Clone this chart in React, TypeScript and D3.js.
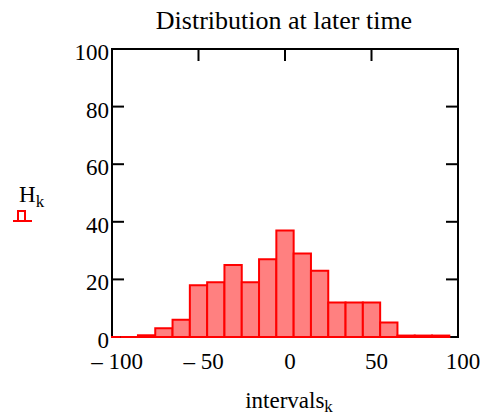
import React from "react";
import * as d3 from "d3";

const centers = [-100, -90, -80, -70, -60, -50, -40, -30, -20, -10, 0, 10, 20, 30, 40, 50, 60, 70, 80, 90];
const counts = [0, 0, 0.6, 3, 6, 18, 19, 25, 19, 27, 37, 29, 23, 12, 12, 12, 5, 0.5, 0.5, 0.5];
const xTicks = [-100, -50, 0, 50, 100];
const yTicks = [0, 20, 40, 60, 80, 100];
const binWidth = 10;

const W = 483, H = 415;
const L = 112, R = 458, T = 49, B = 337;

export default function App() {
  const x = d3.scaleLinear().domain([-100, 100]).range([L, R]);
  const y = d3.scaleLinear().domain([0, 100]).range([B, T]);
  const font = "'Liberation Serif', 'Times New Roman', serif";
  const fs = 23;
  const tickLen = 12;
  const fmt = (v: number) => (v < 0 ? "\u2013 " + Math.abs(v) : String(v));
  return (
    <svg width={W} height={H} style={{ position: "absolute", left: 0, top: 0 }} fontFamily={font}>
      <defs>
        <clipPath id="plot">
          <rect x={L - 1} y={T} width={R - L + 1} height={B - T + 2} />
        </clipPath>
      </defs>
      <text x={284} y={29} fontSize={26} textAnchor="middle">Distribution at later time</text>
      {/* frame */}
      <rect x={L} y={T} width={R - L} height={B - T} fill="none" stroke="#000" strokeWidth={2} />
      {/* y ticks */}
      {yTicks.map((v) => (
        <g key={"y" + v}>
          {v > 0 && v < 100 && (
            <>
              <line x1={L} x2={L + tickLen} y1={y(v)} y2={y(v)} stroke="#000" strokeWidth={2} />
              <line x1={R} x2={R - tickLen} y1={y(v)} y2={y(v)} stroke="#000" strokeWidth={2} />
            </>
          )}
          <text x={L - 3} y={y(v) + 11} fontSize={fs} textAnchor="end">{v}</text>
        </g>
      ))}
      {/* x ticks */}
      {xTicks.map((v) => (
        <g key={"x" + v}>
          {v > -100 && v < 100 && (
            <>
              <line x1={x(v)} x2={x(v)} y1={T} y2={T + tickLen} stroke="#000" strokeWidth={2} />
              <line x1={x(v)} x2={x(v)} y1={B} y2={B - tickLen} stroke="#000" strokeWidth={2} />
            </>
          )}
          <text x={x(v) + 5} y={B + 32} fontSize={fs} textAnchor="middle">{fmt(v)}</text>
        </g>
      ))}
      {/* bars */}
      <g clipPath="url(#plot)">
        {centers.map((c, i) => {
          const x0 = x(c - binWidth / 2);
          const x1 = x(c + binWidth / 2);
          const yt = y(counts[i]);
          const y0 = y(0);
          return (
            <path
              key={"b" + i}
              d={`M${x0},${y0}V${yt}H${x1}V${y0}Z`}
              fill="#ff8080"
              stroke="#ff0000"
              strokeWidth={2}
            />
          );
        })}
      </g>
      {/* x label */}
      <text x={289} y={408} fontSize={fs} textAnchor="middle">
        intervals<tspan fontSize={17} dy={4}>k</tspan>
      </text>
      {/* y label */}
      <text x={19} y={202} fontSize={fs}>
        H<tspan fontSize={17} dy={5}>k</tspan>
      </text>
      <g stroke="#ff0000" strokeWidth={2} fill="none">
        <line x1={13} x2={32} y1={221} y2={221} />
        <polyline points="18,221 18,211 25,211 25,221" />
      </g>
    </svg>
  );
}
